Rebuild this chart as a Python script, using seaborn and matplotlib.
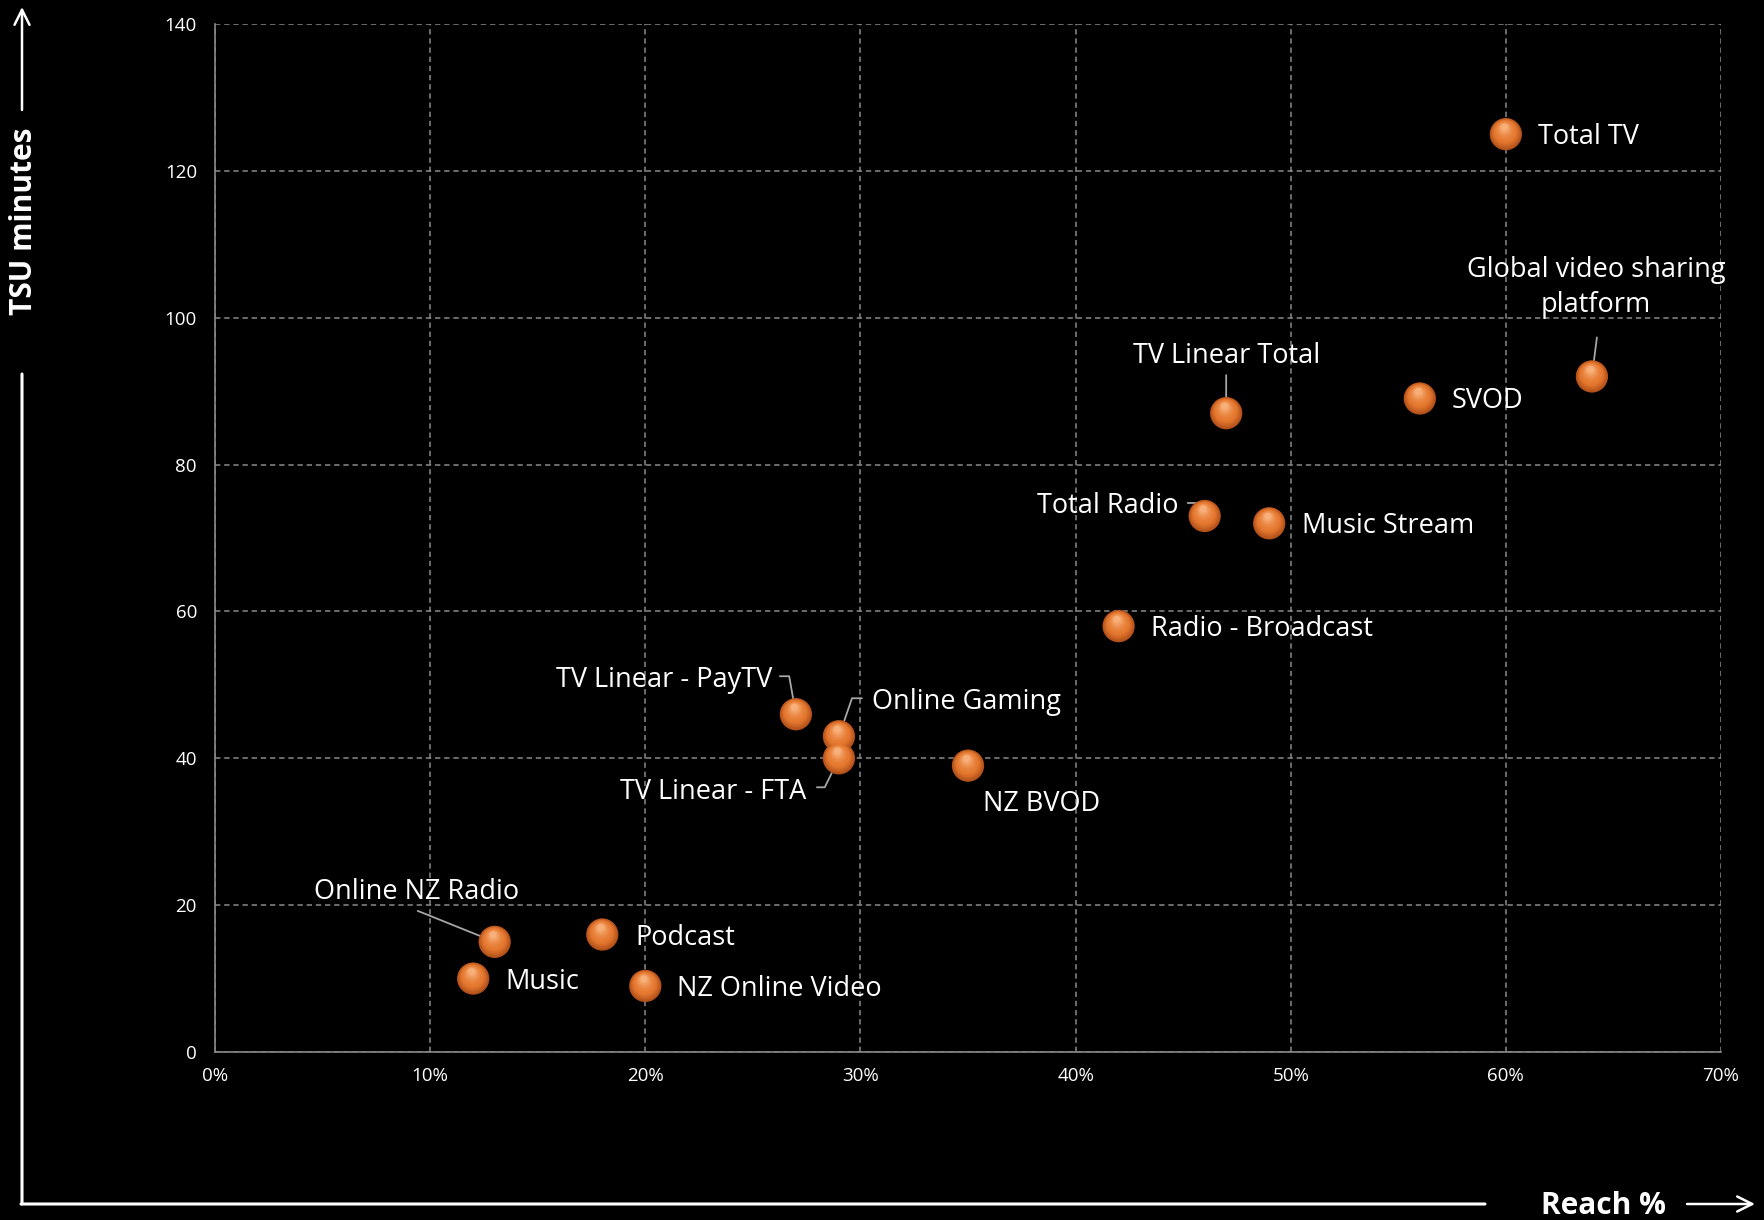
import numpy as np
import pandas as pd
import matplotlib
matplotlib.use("Agg")
import matplotlib.pyplot as plt
import matplotlib.colors as mcolors
from matplotlib.transforms import offset_copy
from matplotlib.ticker import FuncFormatter
import seaborn as sns

# ---- data -------------------------------------------------------------
services = ["Total TV", "Global video sharing\nplatform", "SVOD", "TV Linear Total",
            "Total Radio", "Music Stream", "Radio - Broadcast", "TV Linear - PayTV",
            "Online Gaming", "TV Linear - FTA", "NZ BVOD", "Online NZ Radio",
            "Podcast", "Music", "NZ Online Video"]
reach_pct = [60, 64, 56, 47, 46, 49, 42, 27, 29, 29, 35, 13, 18, 12, 20]
tsu_minutes = [125, 92, 89, 87, 73, 72, 58, 46, 43, 40, 39, 15, 16, 10, 9]

x_ticks = [0, 10, 20, 30, 40, 50, 60, 70]
y_ticks = [0, 20, 40, 60, 80, 100, 120, 140]

df = pd.DataFrame({"service": services, "reach": reach_pct, "tsu": tsu_minutes})

# ---- label placement (pixel offsets from each point, y up) -------------
# (text dx, text dy, ha, leader start, leader end angle or None)
label_style = {
    "Total TV": (32, 0, "left", None, None),
    "Global video sharing\nplatform": (4, 92, "center", (5, 39), None),
    "SVOD": (32, 0, "left", None, None),
    "TV Linear Total": (0, 60, "center", (0, 38), None),
    "Total Radio": (-26, 13, "right", (-17, 13), 111),
    "Music Stream": (33, 0, "left", None, None),
    "Radio - Broadcast": (32, 0, "left", None, None),
    "TV Linear - PayTV": (-24, 37, "right", (-16, 38), 100),
    "Online Gaming": (33, 37, "left", (23, 38), 71),
    "TV Linear - FTA": (-33, -31, "right", (-22, -29), 64),
    "NZ BVOD": (15, -35, "left", None, None),
    "Online NZ Radio": (-78, 53, "center", (-77, 31), None),
    "Podcast": (33, 0, "left", None, None),
    "Music": (32, 0, "left", None, None),
    "NZ Online Video": (32, 0, "left", None, None),
}
TEXT_NUDGE = -3  # bbox centring includes descenders; pull text down a touch

# ---- figure -----------------------------------------------------------
sns.set_theme(style="dark")
plt.rcParams["font.family"] = ["Open Sans", "DejaVu Sans"]
BG = "#000000"
GRID = "#8a8a8a"

W, H, DPI = 1764, 1220, 100
fig = plt.figure(figsize=(W / DPI, H / DPI), dpi=DPI, facecolor=BG)
ax = fig.add_axes([215 / W, 1 - 1052 / H, (1721 - 215) / W, (1052 - 24) / H])
ax.set_facecolor(BG)

# leader lines first, so the spheres sit on top of them
for _, row in df.iterrows():
    tdx, tdy, ha, start, angB = label_style[row.service]
    if start is None:
        continue
    if angB is None:
        conn = "arc3,rad=0"
    else:
        conn = f"angle,angleA=0,angleB={angB},rad=0"
    ax.annotate("", xy=(row.reach, row.tsu), xycoords="data",
                xytext=start, textcoords="offset pixels",
                arrowprops=dict(arrowstyle="-", color="#a6a6a6", lw=1.3,
                                shrinkA=0, shrinkB=0, connectionstyle=conn),
                zorder=3)

# shaded orange spheres: stacked discs getting smaller and lighter,
# drifting slightly upward to put the highlight near the top
edge_c = np.array(mcolors.to_rgb("#b2501a"))
mid_c = np.array(mcolors.to_rgb("#e5782f"))
hi_c = np.array(mcolors.to_rgb("#f8b07a"))
base_size = 540
n_layers = 14
for i in range(n_layers):
    t = i / (n_layers - 1)
    frac = 1.0 - 0.8 * t
    if t < 0.35:
        c = edge_c + (mid_c - edge_c) * (t / 0.35)
    else:
        c = mid_c + (hi_c - mid_c) * ((t - 0.35) / 0.65) ** 1.6
    tr = offset_copy(ax.transData, fig=fig, x=-1.5 * t, y=7.0 * t, units="dots")
    sns.scatterplot(data=df, x="reach", y="tsu", ax=ax, s=base_size * frac ** 2,
                    color=mcolors.to_hex(c), edgecolor="none", linewidth=0,
                    transform=tr, zorder=4 + i * 0.01, legend=False)

# point labels
for _, row in df.iterrows():
    tdx, tdy, ha, start, angB = label_style[row.service]
    ax.annotate(row.service, xy=(row.reach, row.tsu), xycoords="data",
                xytext=(tdx, tdy + TEXT_NUDGE), textcoords="offset pixels",
                ha=ha, va="center", color="white", fontsize=19.5,
                linespacing=1.32, zorder=6)

# axes, ticks and grid
ax.set_xlim(0, 70)
ax.set_ylim(0, 140)
ax.set_xticks(x_ticks)
ax.set_yticks(y_ticks)
ax.xaxis.set_major_formatter(FuncFormatter(lambda v, p: f"{v:.0f}%"))
ax.tick_params(axis="both", length=0, labelsize=13.5, labelcolor="white")
ax.tick_params(axis="y", pad=13)
ax.tick_params(axis="x", pad=11)
ax.grid(True, color=GRID, linestyle=(0, (3.5, 2.5)), linewidth=1.1)
ax.set_axisbelow(True)
ax.set_xlabel("")
ax.set_ylabel("")
for side in ("top", "right"):
    ax.spines[side].set_visible(False)
for side in ("left", "bottom"):
    ax.spines[side].set_visible(True)
    ax.spines[side].set_color(GRID)
    ax.spines[side].set_linewidth(1.2)
    ax.spines[side].set_zorder(2)

# outer L-shaped axis guides with arrows and titles
fp = "figure pixels"
line_kw = dict(arrowstyle="-", color="white", lw=2.2, shrinkA=0, shrinkB=0)
arrow_kw = dict(arrowstyle="->,head_length=0.9,head_width=0.45", color="white",
                lw=1.8, shrinkA=0, shrinkB=0)
ax.annotate("", xy=(22, 16), xycoords=fp, xytext=(22, 846), textcoords=fp,
            arrowprops=line_kw, annotation_clip=False)
ax.annotate("", xy=(1485, 16), xycoords=fp, xytext=(21, 16), textcoords=fp,
            arrowprops=line_kw, annotation_clip=False)
ax.annotate("", xy=(22, 1213), xycoords=fp, xytext=(22, 1110), textcoords=fp,
            arrowprops=arrow_kw, annotation_clip=False)
ax.annotate("", xy=(1755, 16), xycoords=fp, xytext=(1687, 16), textcoords=fp,
            arrowprops=arrow_kw, annotation_clip=False)
fig.text(24 / W, 1 - 221 / H, "TSU minutes", rotation=90, ha="center", va="center",
         color="white", fontsize=21.5, fontweight="bold")
fig.text(1603 / W, 1 - 1206 / H, "Reach %", ha="center", va="center",
         color="white", fontsize=21.5, fontweight="bold")

fig.savefig("out.png", dpi=DPI, facecolor=BG)
